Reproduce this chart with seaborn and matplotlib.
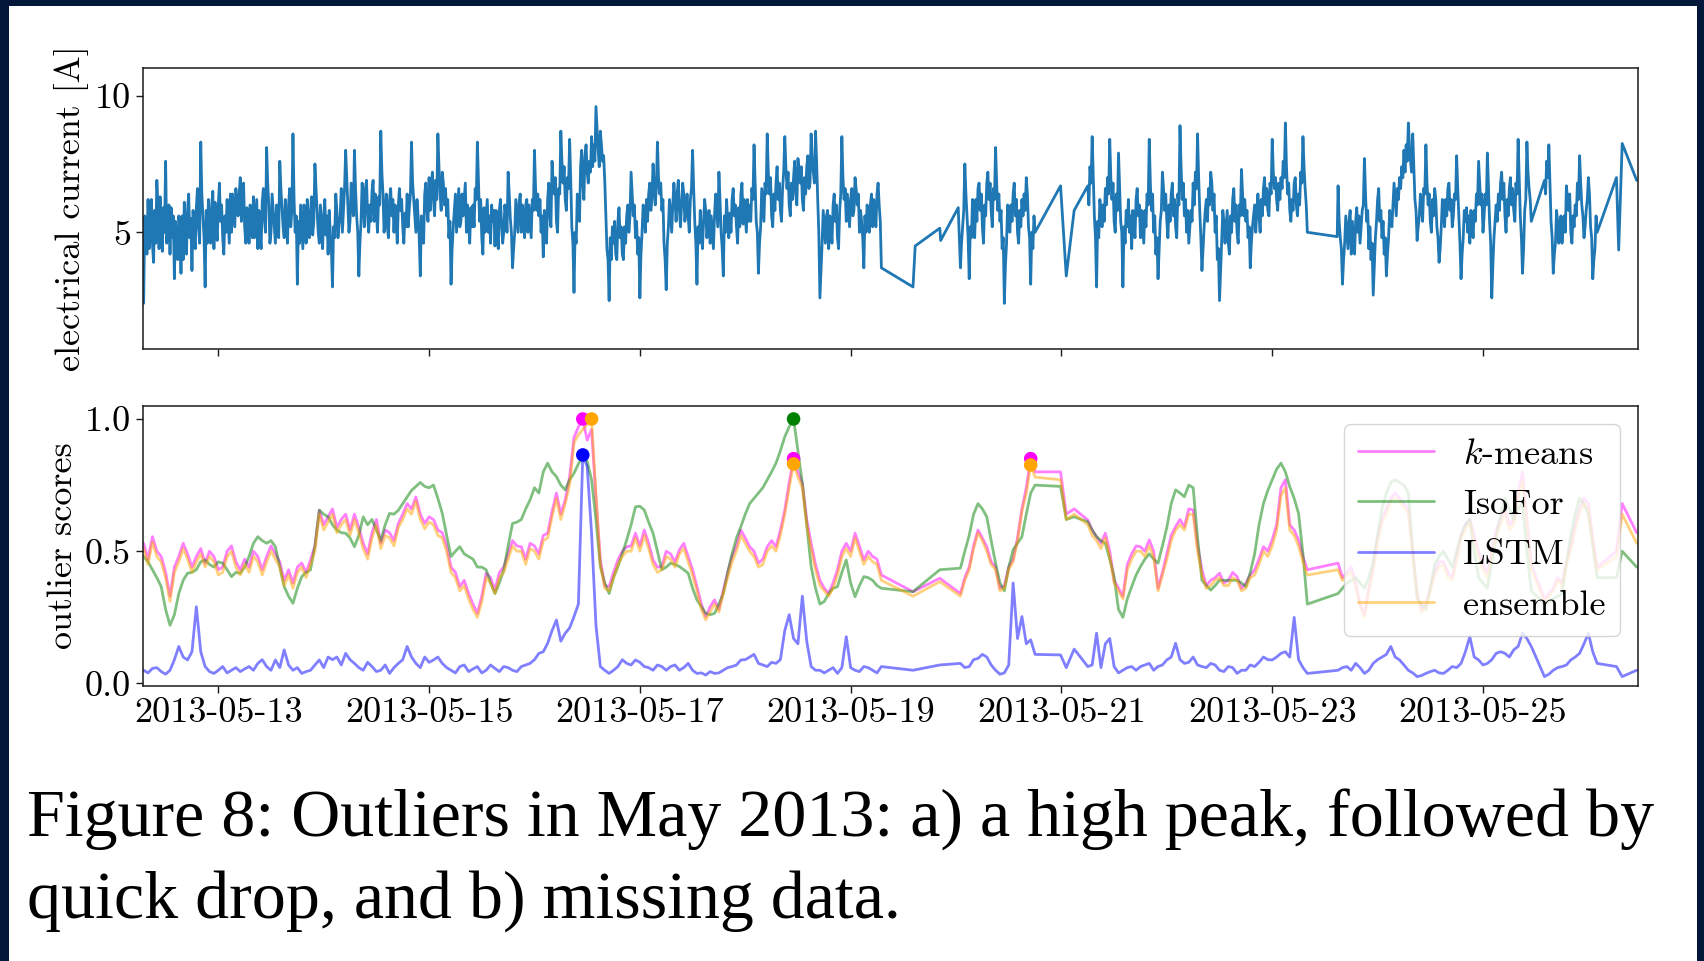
import numpy as np
import pandas as pd
import matplotlib
matplotlib.use("Agg")
import matplotlib.pyplot as plt
import seaborn as sns
from matplotlib.patches import Rectangle

# ---------------- data ----------------
BASE = "2013-05-12"   # hours below are counted from 2013-05-12 00:00

# electrical current [A]: regular runs (first hour, readings every 30 min,
# readings at the quarter hours in between)
current_run1 = (7, [
    2.4, 4.8, 6.2, 5.4, 4.6, 5.8, 6.9, 4.4, 5.0, 5.9,
    7.6, 5.2, 4.2, 4.8, 3.3, 4.6, 5.6, 3.5, 4.0, 5.0,
    5.8, 4.8, 3.6, 4.9, 5.9, 5.2, 8.3, 5.6, 3.0, 4.6,
    5.2, 6.0, 4.4, 5.3, 6.0, 5.4, 4.8, 5.6, 6.2, 4.6,
    5.0, 5.8, 6.6, 5.6, 7.0, 6.2, 5.2, 5.9, 4.6, 5.2,
    6.3, 5.5, 4.4, 5.0, 6.1, 5.5, 8.1, 6.0, 5.0, 5.8,
    4.6, 5.4, 7.6, 5.9, 4.8, 5.3, 6.0, 5.2, 8.6, 5.0,
    3.1, 4.6, 5.2, 6.0, 4.6, 5.4, 5.8, 4.9, 7.5, 5.8,
    4.6, 5.2, 5.6, 4.9, 4.2, 5.0, 3.0, 4.8, 5.8, 5.3,
    6.6, 5.8, 8.0, 6.1, 5.4, 6.2, 8.0, 5.6, 3.4, 5.4,
    6.2, 6.6, 5.6, 6.0, 6.5, 5.4, 5.8, 6.3, 8.7, 6.4,
    5.6, 5.2, 6.2, 5.6, 5.0, 5.5, 6.0, 5.8, 5.2, 5.7,
    6.4, 5.9, 8.3, 6.2, 5.0, 5.6, 3.4, 5.2, 6.4, 5.8,
    7.0, 6.6, 6.2, 6.9, 8.6, 6.4, 7.2, 6.0, 5.6, 4.8,
    3.1, 5.2, 6.4, 5.8, 5.2, 6.4, 6.2, 5.0, 5.4, 5.9,
    6.0, 6.6, 8.3, 5.4, 4.8, 5.9, 5.6, 5.0, 4.6, 5.4,
    4.5, 5.0, 5.8, 5.3, 5.0, 5.6, 7.2, 5.5, 3.7, 5.0,
    5.6, 6.1, 5.0, 5.6, 6.0, 5.0, 5.4, 6.2, 8.0, 5.8,
    5.6, 5.0, 4.1, 5.3, 6.2, 5.6, 7.6, 6.4, 5.4, 6.6,
    8.7, 6.8, 6.2, 7.0, 8.4, 5.2, 2.8, 4.6, 5.8, 7.4,
    6.8, 7.8, 7.2, 7.6, 8.5, 8.2, 9.6, 8.0, 8.7, 7.6,
    6.9, 4.4, 2.5, 4.0, 4.6, 4.2, 5.4, 4.8, 4.2, 5.2,
    5.6, 5.0, 7.2, 5.6, 4.8, 4.2, 2.6, 5.0, 5.6, 6.2,
    6.4, 5.8, 7.5, 6.0, 8.3, 6.4, 5.8, 4.6, 2.9, 5.2,
    5.6, 6.0, 6.2, 6.4, 5.8, 6.0, 6.4, 5.8, 5.6, 6.2,
    8.0, 5.4, 3.1, 4.6, 5.0, 5.4, 5.8, 5.2, 4.6, 5.0,
    5.6, 5.8, 7.2, 5.0, 3.4, 5.0, 5.4, 5.7, 6.2, 5.6,
    5.2, 5.9, 6.4, 5.3, 5.6, 6.2, 6.0, 6.6, 8.2, 5.4,
    3.5, 5.2, 6.0, 6.8, 8.6, 6.4, 5.6, 6.4, 6.8, 6.2,
    5.8, 6.6, 8.5, 6.6, 6.0, 6.8, 7.0, 6.4, 7.7, 6.8,
    6.2, 7.0, 7.4, 6.6, 8.6, 7.2, 8.7, 6.2, 2.6, 4.6,
    5.2, 5.6, 4.4, 5.2, 6.0, 5.4, 4.8, 5.8, 8.5, 6.2,
    5.4, 5.8, 6.2, 5.6, 7.0, 6.0, 5.0, 5.4, 3.7, 5.0,
    5.6, 6.0, 5.2, 5.8, 6.4, 6.0, 3.7], [
    5.6, 4.2, 4.4, 6.2, 3.9, 4.6, 6.0, 6.3, 4.3, 5.0,
    4.6, 6.0, 5.9, 5.6, 5.4, 4.0, 5.2, 5.6, 6.1, 4.2,
    6.4, 5.5, 5.8, 4.4, 6.6, 4.6, 6.4, 4.8, 5.8, 6.2,
    4.6, 6.5, 6.1, 4.7, 6.8, 6.0, 4.2, 5.0, 5.4, 6.4,
    6.4, 5.2, 6.0, 6.4, 5.4, 6.8, 4.6, 5.4, 6.0, 4.8,
    4.8, 6.2, 5.8, 4.4, 6.6, 5.0, 6.8, 4.6, 6.4, 5.2,
    6.0, 4.8, 6.6, 5.2, 6.2, 4.6, 6.6, 5.8, 6.2, 5.6,
    5.4, 6.0, 4.4, 5.6, 6.2, 4.8, 6.3, 5.4, 6.6, 5.0,
    6.0, 4.4, 6.2, 5.6, 5.8, 4.4, 5.2, 6.4, 4.8, 5.6,
    5.0, 6.6, 7.0, 5.0, 6.8, 5.6, 6.6, 5.0, 4.6, 6.8,
    5.2, 6.9, 5.0, 5.4, 6.9, 6.4, 5.0, 6.0, 7.2, 5.0,
    6.4, 4.8, 6.6, 6.2, 6.0, 4.6, 6.6, 6.2, 4.6, 5.2,
    5.2, 6.4, 6.8, 5.6, 6.2, 4.8, 5.6, 4.6, 6.8, 5.4,
    5.8, 7.2, 5.6, 6.2, 7.4, 5.8, 6.8, 6.6, 6.2, 5.4,
    4.4, 5.8, 5.0, 6.6, 5.4, 5.6, 6.8, 6.0, 4.6, 5.2,
    5.2, 6.2, 6.8, 6.2, 4.2, 5.0, 6.2, 5.6, 6.0, 5.8,
    5.8, 4.4, 6.2, 4.6, 6.0, 5.0, 6.4, 5.0, 4.4, 6.2,
    5.0, 6.4, 6.0, 4.8, 6.2, 6.0, 4.8, 5.8, 6.6, 6.4,
    6.2, 5.6, 5.8, 4.6, 6.8, 5.2, 6.8, 7.0, 5.0, 6.4,
    7.6, 7.4, 5.8, 6.6, 7.0, 4.6, 5.0, 6.4, 5.4, 8.0,
    6.2, 8.2, 6.8, 7.2, 7.4, 7.6, 8.8, 7.4, 8.2, 7.8,
    5.6, 4.0, 4.8, 5.2, 5.4, 4.0, 5.9, 5.2, 4.0, 4.6,
    6.0, 5.6, 6.4, 6.0, 5.4, 4.8, 4.2, 6.0, 5.0, 5.4,
    6.8, 6.2, 6.8, 6.6, 7.0, 6.8, 6.2, 4.0, 4.6, 6.2,
    5.0, 6.8, 5.4, 6.9, 5.2, 6.8, 5.4, 6.4, 5.0, 6.6,
    6.6, 4.6, 5.2, 5.8, 4.4, 6.2, 4.8, 5.8, 5.6, 4.4,
    6.4, 5.2, 6.2, 4.4, 5.6, 6.2, 4.8, 5.0, 6.6, 6.0,
    4.6, 5.2, 6.8, 6.2, 5.0, 5.4, 5.4, 6.2, 6.8, 5.0,
    4.6, 6.6, 5.4, 6.4, 7.2, 7.0, 5.2, 5.8, 7.4, 6.8,
    5.4, 7.2, 7.4, 7.2, 5.6, 6.2, 7.6, 6.0, 7.2, 7.4,
    5.8, 6.4, 7.8, 6.8, 7.6, 6.8, 7.6, 5.0, 3.6, 5.8,
    4.6, 5.8, 5.6, 4.6, 6.4, 6.0, 4.4, 6.4, 7.0, 6.6,
    6.4, 5.2, 6.6, 5.8, 6.6, 6.4, 5.8, 4.8, 5.6, 6.0,
    5.0, 6.4, 6.2, 5.2, 6.8, 5.4])
current_run2 = (193, [
    3.7, 5.2, 7.5, 5.6, 3.3, 4.8, 5.6, 6.2, 6.6, 5.8, 5.2, 6.0, 6.8, 6.2, 5.8, 6.6,
    8.1, 5.8, 5.4, 4.4, 2.4, 4.6, 5.6, 6.0, 6.4, 5.6, 5.0, 5.8, 6.2, 6.4, 7.0, 5.2,
    3.1, 4.4, 5.0], [
    4.6, 5.8, 6.4, 4.8, 5.2, 6.2, 4.8, 5.4, 6.8, 6.4,
    4.6, 5.6, 7.2, 6.8, 5.2, 6.2, 6.8, 6.4, 5.8, 4.8,
    3.8, 6.0, 5.0, 5.4, 6.8, 6.2, 4.6, 5.2, 5.6, 5.8,
    6.4, 4.8, 5.0, 5.6])
current_run3 = (222, [
    6.7, 7.4, 8.5, 5.6, 3.0, 4.8, 5.8, 6.0, 6.6, 7.0,
    8.4, 6.2, 5.4, 6.4, 7.9, 5.4, 3.0, 4.6, 5.2, 5.0,
    4.4, 5.4, 6.2, 5.6, 4.8, 5.2, 5.8, 6.4, 8.4, 5.8,
    5.0, 4.2, 3.3, 5.4, 7.2, 5.8, 5.4, 6.0, 6.4, 5.6,
    5.2, 6.4, 8.9, 6.2, 5.6, 5.0, 4.6, 5.8, 6.8, 7.2,
    8.6, 5.8, 3.6, 5.2, 6.2, 6.6, 7.2, 5.8, 5.0, 4.0,
    2.5, 4.6, 5.4, 5.2, 4.6, 5.6, 6.2, 5.4, 5.0, 6.0,
    7.3, 5.6, 5.4, 4.8, 3.7, 5.2, 6.0, 5.8, 5.6, 6.2,
    6.6, 6.0, 5.8, 6.8, 8.4, 6.6, 6.2, 6.8, 7.0, 7.6,
    9.0, 6.4, 5.8, 6.2, 6.8, 6.0, 6.4, 7.2, 8.5, 6.6,
    5.0], [
    6.0, 6.8, 7.0, 4.8, 5.4, 6.2, 5.2, 5.4, 6.0, 6.4,
    7.0, 6.8, 5.0, 5.8, 6.6, 5.0, 5.2, 5.8, 6.2, 5.6,
    5.8, 4.8, 6.6, 6.0, 5.8, 4.6, 5.2, 6.0, 6.8, 6.4,
    5.6, 4.8, 4.4, 5.8, 6.6, 6.4, 4.8, 5.4, 6.8, 6.2,
    4.8, 6.0, 7.4, 6.8, 6.2, 5.8, 5.2, 5.4, 6.0, 6.6,
    7.0, 4.8, 4.4, 5.8, 5.4, 6.0, 6.8, 6.4, 5.6, 4.4,
    3.6, 5.8, 4.6, 5.8, 4.2, 5.0, 6.6, 6.0, 4.6, 5.6,
    6.4, 6.2, 5.8, 5.2, 4.6, 5.6, 5.0, 6.4, 5.0, 5.6,
    7.0, 6.6, 5.6, 6.4, 7.2, 7.0, 5.8, 6.2, 6.6, 7.0,
    7.4, 6.8, 5.4, 5.8, 7.0, 5.6, 6.0, 6.8, 7.4, 6.0])
current_run4 = (279, [
    6.7, 4.8, 3.1, 4.6, 5.0, 5.4, 4.2, 4.8, 5.4, 5.0,
    4.6, 5.8, 7.7, 5.4, 4.4, 4.0, 2.7, 4.8, 6.2, 5.4,
    4.8, 4.2, 3.4, 4.8, 5.6, 6.0, 6.2, 6.6, 7.0, 7.4,
    8.0, 8.2, 9.0, 7.6, 8.6, 6.2, 4.7, 5.6, 6.0, 6.6,
    8.2, 6.0, 5.4, 6.2, 6.6, 5.2, 3.9, 5.2, 5.8, 6.2,
    6.6, 5.8, 5.2, 6.4, 7.8, 5.6, 3.3, 4.8, 5.4, 5.0,
    4.6, 5.4, 5.8, 6.4, 7.6, 6.0, 5.0, 6.4, 7.9, 5.4,
    2.6, 4.8, 6.0, 6.4, 6.8, 6.2, 5.6, 6.2, 6.6, 6.0,
    5.8, 6.8, 8.4, 5.6, 3.5, 5.8, 8.3, 6.6, 5.4], [
    5.4, 4.4, 4.0, 5.6, 4.4, 5.8, 5.4, 4.2, 5.9, 5.6,
    5.2, 6.0, 6.4, 5.8, 5.2, 4.6, 3.8, 5.4, 6.6, 5.8,
    5.4, 4.8, 4.2, 5.8, 5.2, 6.8, 5.6, 6.2, 6.6, 7.0,
    7.2, 7.6, 8.2, 7.2, 7.4, 5.8, 5.2, 6.4, 5.4, 6.4,
    6.8, 6.4, 5.0, 5.6, 6.2, 4.8, 4.4, 6.2, 5.2, 5.6,
    6.8, 6.2, 5.6, 6.2, 6.6, 4.6, 4.2, 5.8, 5.9, 5.6,
    5.8, 4.8, 5.4, 6.0, 6.8, 6.4, 5.6, 6.0, 6.6, 4.6,
    3.8, 5.4, 5.4, 5.8, 7.2, 6.8, 5.0, 5.6, 7.0, 6.6,
    5.4, 6.4, 7.0, 4.8, 4.4, 6.2, 7.2, 6.2])
current_run5 = (326, [
    6.9, 7.6, 8.2, 5.4, 3.5, 4.6, 5.4, 5.0, 4.6, 5.6, 6.7, 5.8, 5.0, 5.6, 6.0, 6.8,
    7.8, 6.0, 4.8, 5.8, 7.0, 5.2, 3.3, 4.4, 5.0], [
    6.4, 7.0, 6.8, 4.8, 4.2, 5.8, 4.6, 5.6, 5.2, 5.0,
    6.2, 6.4, 4.6, 5.2, 5.6, 6.2, 6.8, 5.6, 5.2, 6.2,
    6.4, 4.8, 4.0, 5.6])
# isolated readings around the missing-data stretches
current_sparse_hours = [182.2, 182.7, 188.3, 188.5, 192.5, 215.8, 217.1, 218.9,
                        278.8, 342.4, 342.9, 343.7, 347.0]
current_sparse_values = [3.0, 4.5, 5.15, 4.7, 5.9, 6.7, 3.4, 5.8,
                         4.84, 7.0, 4.35, 8.25, 6.9]

# outlier scores, part 1: two-hourly readings plus isolated ones in the gaps
score_hours = np.concatenate([
    np.arange(7, 176, 2), [182.2, 188.3], np.arange(193, 210, 2),
    [210, 215.8, 217.1, 218.9], np.arange(222, 273, 2), np.arange(279, 324, 2),
    np.arange(326, 339, 2), [342.4, 343.7, 347.0]])

kmeans_scores = [
    0.53, 0.555, 0.48, 0.33, 0.48, 0.49, 0.48, 0.455, 0.48, 0.44, 0.52, 0.43, 0.44, 0.48,
    0.48, 0.49, 0.39, 0.38, 0.455, 0.467, 0.655, 0.63, 0.59, 0.64, 0.64, 0.53, 0.57, 0.53,
    0.57, 0.605, 0.68, 0.705, 0.605, 0.62, 0.57, 0.44, 0.366, 0.34, 0.265, 0.417, 0.353,
    0.44, 0.54,
    0.517, 0.53, 0.49, 0.568, 0.72, 0.694, 0.93, 1.0, 0.96, 0.467, 0.366, 0.467, 0.517,
    0.568, 0.58, 0.467, 0.442, 0.49, 0.505, 0.48, 0.366, 0.253, 0.316, 0.353, 0.48, 0.58,
    0.517, 0.455, 0.517, 0.517, 0.655, 0.85, 0.757, 0.53, 0.39, 0.34, 0.43, 0.53, 0.568,
    0.467, 0.48, 0.41,
    0.347, 0.398,
    0.34, 0.44, 0.58, 0.517, 0.44, 0.37, 0.47, 0.66, 0.85,
    0.80, 0.80, 0.64, 0.66,
    0.618, 0.555, 0.568, 0.39, 0.33, 0.49, 0.517, 0.543, 0.36, 0.49, 0.593, 0.593, 0.656,
    0.43, 0.39, 0.417, 0.39, 0.404, 0.379, 0.43, 0.517, 0.543, 0.74, 0.60, 0.543, 0.43,
    0.455, 0.42, 0.38, 0.26, 0.44, 0.62, 0.70, 0.70, 0.66, 0.34, 0.30, 0.42, 0.46, 0.40,
    0.56, 0.62, 0.50, 0.42, 0.58, 0.66, 0.62, 0.80, 0.45,
    0.32, 0.36, 0.38, 0.52, 0.66, 0.68, 0.44,
    0.50, 0.68, 0.57]

isofor_scores = [
    0.48, 0.43, 0.366, 0.22, 0.34, 0.417, 0.43, 0.467, 0.44, 0.455, 0.404, 0.417, 0.48,
    0.555, 0.53, 0.517, 0.366, 0.303, 0.404, 0.43, 0.655, 0.63, 0.58, 0.568, 0.517, 0.63,
    0.62, 0.54, 0.643, 0.655, 0.705, 0.745, 0.745, 0.75, 0.643, 0.48, 0.517, 0.48, 0.44,
    0.43, 0.34, 0.43, 0.605,
    0.62, 0.694, 0.72, 0.833, 0.782, 0.732, 0.795, 0.858, 0.77, 0.442, 0.34, 0.442, 0.543,
    0.668, 0.656, 0.568, 0.43, 0.455, 0.442, 0.417, 0.316, 0.265, 0.265, 0.34, 0.49, 0.593,
    0.68, 0.72, 0.77, 0.833, 0.933, 1.0, 0.757, 0.442, 0.30, 0.34, 0.366, 0.467, 0.328,
    0.404, 0.39, 0.36,
    0.347, 0.43,
    0.436, 0.56, 0.68, 0.63, 0.455, 0.35, 0.505, 0.555, 0.72,
    0.75, 0.745, 0.62, 0.63,
    0.611, 0.555, 0.53, 0.404, 0.25, 0.366, 0.442, 0.49, 0.455, 0.59, 0.732, 0.706, 0.74,
    0.39, 0.353, 0.39, 0.39, 0.39, 0.366, 0.49, 0.68, 0.77, 0.833, 0.744, 0.643, 0.30,
    0.34, 0.38, 0.40, 0.36, 0.46, 0.66, 0.76, 0.76, 0.72, 0.32, 0.28, 0.45, 0.50, 0.44,
    0.56, 0.62, 0.40, 0.36, 0.55, 0.70, 0.62, 0.68, 0.35,
    0.30, 0.32, 0.34, 0.56, 0.70, 0.64, 0.40,
    0.40, 0.50, 0.44]

lstm_scores = [
    0.05, 0.057, 0.045, 0.05, 0.14, 0.089, 0.29, 0.064, 0.038, 0.064, 0.05, 0.045, 0.064,
    0.076, 0.064, 0.089, 0.127, 0.05, 0.038, 0.05, 0.089, 0.1, 0.1, 0.114, 0.076, 0.05,
    0.064, 0.05, 0.038, 0.076, 0.14, 0.076, 0.1, 0.089, 0.076, 0.05, 0.064, 0.045, 0.064,
    0.05, 0.057, 0.064, 0.05,
    0.064, 0.076, 0.114, 0.152, 0.24, 0.19, 0.253, 0.864, 0.568, 0.064, 0.038, 0.064,
    0.076, 0.089, 0.064, 0.05, 0.064, 0.064, 0.05, 0.076, 0.038, 0.032, 0.038, 0.05, 0.064,
    0.089, 0.1, 0.076, 0.064, 0.076, 0.2, 0.17, 0.33, 0.064, 0.05, 0.05, 0.038, 0.177,
    0.05, 0.064, 0.05, 0.064,
    0.05, 0.07,
    0.076, 0.064, 0.095, 0.1, 0.05, 0.04, 0.38, 0.253, 0.165,
    0.11, 0.108, 0.06, 0.13,
    0.064, 0.19, 0.15, 0.064, 0.05, 0.064, 0.064, 0.076, 0.064, 0.089, 0.152, 0.076, 0.1,
    0.064, 0.076, 0.05, 0.064, 0.038, 0.05, 0.064, 0.1, 0.089, 0.114, 0.10, 0.09, 0.038,
    0.05, 0.064, 0.076, 0.038, 0.076, 0.1, 0.14, 0.089, 0.05, 0.026, 0.038, 0.05, 0.038,
    0.064, 0.076, 0.177, 0.089, 0.076, 0.114, 0.114, 0.127, 0.19, 0.14,
    0.026, 0.05, 0.064, 0.089, 0.114, 0.19, 0.076,
    0.064, 0.026, 0.05]

ensemble_scores = [
    0.51, 0.535, 0.46, 0.31, 0.46, 0.47, 0.46, 0.44, 0.46, 0.42, 0.50, 0.41, 0.42, 0.46,
    0.46, 0.47, 0.37, 0.36, 0.44, 0.45, 0.64, 0.61, 0.57, 0.62, 0.62, 0.51, 0.55, 0.51,
    0.55, 0.59, 0.66, 0.69, 0.585, 0.60, 0.55, 0.42, 0.35, 0.32, 0.25, 0.40, 0.34, 0.42,
    0.52,
    0.50, 0.51, 0.47, 0.55, 0.70, 0.68, 0.91, 0.96, 1.0, 0.45, 0.35, 0.45, 0.50, 0.55,
    0.56, 0.45, 0.43, 0.47, 0.49, 0.46, 0.35, 0.24, 0.30, 0.34, 0.46, 0.56, 0.50, 0.44,
    0.50, 0.50, 0.64, 0.83, 0.74, 0.51, 0.37, 0.33, 0.41, 0.51, 0.55, 0.45, 0.46, 0.39,
    0.33, 0.385,
    0.33, 0.43, 0.57, 0.50, 0.43, 0.36, 0.46, 0.65, 0.826,
    0.78, 0.77, 0.62, 0.64,
    0.60, 0.54, 0.55, 0.38, 0.32, 0.47, 0.50, 0.52, 0.35, 0.47, 0.58, 0.58, 0.64, 0.41,
    0.37, 0.40, 0.37, 0.39, 0.36, 0.41, 0.50, 0.52, 0.71, 0.58, 0.52, 0.41,
    0.43, 0.41, 0.37, 0.25, 0.43, 0.61, 0.69, 0.69, 0.65, 0.33, 0.29, 0.41, 0.45, 0.39,
    0.55, 0.61, 0.48, 0.40, 0.56, 0.65, 0.60, 0.77, 0.43,
    0.31, 0.35, 0.37, 0.51, 0.65, 0.66, 0.43,
    0.48, 0.64, 0.53]

# outlier scores, part 2: readings at the odd hours in between
score_mid_hours = np.concatenate([
    np.arange(8, 175, 2), np.arange(194, 209, 2), np.arange(223, 272, 2),
    np.arange(280, 323, 2), np.arange(327, 338, 2)])

kmeans_mid = [
    0.47, 0.50, 0.42, 0.44, 0.53, 0.44, 0.51, 0.50, 0.43, 0.50,
    0.46, 0.47, 0.50, 0.43, 0.52, 0.46, 0.43, 0.44, 0.42, 0.52,
    0.60, 0.66, 0.62, 0.58, 0.59, 0.49, 0.62, 0.58, 0.54, 0.64,
    0.66, 0.64, 0.63, 0.58, 0.52, 0.42, 0.39, 0.30, 0.33, 0.40,
    0.42, 0.49, 0.52, 0.47, 0.52, 0.56, 0.65, 0.64, 0.78, 0.97,
    0.92, 0.70, 0.37, 0.42, 0.50, 0.52, 0.52, 0.53, 0.44, 0.50,
    0.46, 0.53, 0.43, 0.30, 0.29, 0.28, 0.42, 0.52, 0.55, 0.50,
    0.47, 0.54, 0.58, 0.76, 0.80, 0.62, 0.45, 0.36, 0.38, 0.50,
    0.50, 0.52, 0.50, 0.47,
    0.40, 0.52, 0.55, 0.46, 0.36, 0.44, 0.55, 0.74,
    0.58, 0.53, 0.50, 0.36, 0.45, 0.52, 0.50, 0.50, 0.42, 0.56, 0.62, 0.66, 0.52,
    0.37, 0.40, 0.38, 0.42, 0.36, 0.41, 0.47, 0.50, 0.60, 0.77, 0.58, 0.48,
    0.40, 0.44, 0.30, 0.36, 0.55, 0.66, 0.72, 0.68, 0.50, 0.28, 0.36, 0.46, 0.42,
    0.48, 0.60, 0.56, 0.45, 0.50, 0.62, 0.60, 0.72, 0.62,
    0.34, 0.40, 0.46, 0.60, 0.70, 0.55]

isofor_mid = [
    0.46, 0.40, 0.28, 0.26, 0.39, 0.42, 0.46, 0.45, 0.46, 0.43,
    0.42, 0.44, 0.53, 0.54, 0.54, 0.44, 0.33, 0.36, 0.42, 0.52,
    0.64, 0.60, 0.57, 0.55, 0.56, 0.60, 0.58, 0.60, 0.64, 0.68,
    0.73, 0.76, 0.74, 0.70, 0.56, 0.50, 0.49, 0.47, 0.44, 0.38,
    0.38, 0.52, 0.61, 0.66, 0.74, 0.80, 0.80, 0.75, 0.77, 0.83,
    0.84, 0.62, 0.38, 0.40, 0.49, 0.60, 0.67, 0.61, 0.50, 0.44,
    0.45, 0.43, 0.36, 0.29, 0.26, 0.30, 0.42, 0.55, 0.64, 0.70,
    0.74, 0.80, 0.88, 0.97, 0.88, 0.60, 0.36, 0.31, 0.36, 0.42,
    0.38, 0.37, 0.40, 0.37,
    0.50, 0.64, 0.66, 0.54, 0.38, 0.44, 0.53, 0.64,
    0.58, 0.54, 0.47, 0.28, 0.32, 0.41, 0.47, 0.47, 0.52, 0.68, 0.72, 0.75, 0.55,
    0.37, 0.37, 0.39, 0.39, 0.38, 0.42, 0.60, 0.73, 0.81, 0.80, 0.70, 0.49,
    0.36, 0.39, 0.38, 0.40, 0.56, 0.72, 0.77, 0.75, 0.50, 0.30, 0.36, 0.48, 0.47,
    0.50, 0.60, 0.50, 0.38, 0.46, 0.64, 0.66, 0.66, 0.50,
    0.31, 0.33, 0.45, 0.64, 0.68, 0.52]

lstm_mid = [
    0.04, 0.06, 0.035, 0.09, 0.10, 0.12, 0.12, 0.045, 0.05, 0.04,
    0.06, 0.055, 0.05, 0.09, 0.05, 0.06, 0.07, 0.06, 0.045, 0.07,
    0.06, 0.09, 0.07, 0.09, 0.06, 0.08, 0.045, 0.07, 0.06, 0.09,
    0.10, 0.06, 0.08, 0.10, 0.06, 0.04, 0.07, 0.055, 0.04, 0.07,
    0.045, 0.06, 0.045, 0.07, 0.09, 0.12, 0.20, 0.16, 0.21, 0.30,
    0.82, 0.22, 0.05, 0.05, 0.09, 0.07, 0.08, 0.06, 0.07, 0.05,
    0.07, 0.06, 0.05, 0.04, 0.045, 0.04, 0.06, 0.07, 0.09, 0.11,
    0.07, 0.08, 0.09, 0.26, 0.15, 0.16, 0.05, 0.04, 0.06, 0.06,
    0.06, 0.045, 0.06, 0.04,
    0.06, 0.09, 0.11, 0.07, 0.035, 0.07, 0.17, 0.15,
    0.07, 0.06, 0.17, 0.04, 0.06, 0.05, 0.07, 0.05, 0.07, 0.10, 0.09, 0.08, 0.07,
    0.06, 0.07, 0.045, 0.06, 0.05, 0.07, 0.08, 0.09, 0.10, 0.12, 0.25, 0.06,
    0.06, 0.05, 0.06, 0.05, 0.09, 0.11, 0.10, 0.07, 0.04, 0.03, 0.045, 0.04, 0.05,
    0.06, 0.12, 0.10, 0.07, 0.09, 0.12, 0.10, 0.14, 0.17,
    0.035, 0.06, 0.07, 0.10, 0.15, 0.12]

ensemble_mid = [
    0.45, 0.48, 0.40, 0.42, 0.51, 0.42, 0.49, 0.48, 0.41, 0.48,
    0.44, 0.45, 0.48, 0.41, 0.50, 0.44, 0.41, 0.42, 0.40, 0.50,
    0.58, 0.64, 0.60, 0.56, 0.57, 0.47, 0.60, 0.56, 0.52, 0.62,
    0.64, 0.62, 0.61, 0.56, 0.50, 0.40, 0.37, 0.28, 0.31, 0.38,
    0.40, 0.47, 0.50, 0.45, 0.50, 0.54, 0.63, 0.62, 0.75, 0.94,
    0.98, 0.72, 0.36, 0.40, 0.48, 0.50, 0.50, 0.51, 0.42, 0.48,
    0.44, 0.51, 0.41, 0.28, 0.27, 0.27, 0.40, 0.50, 0.53, 0.48,
    0.45, 0.52, 0.56, 0.74, 0.78, 0.60, 0.43, 0.35, 0.36, 0.48,
    0.48, 0.50, 0.48, 0.45,
    0.39, 0.51, 0.54, 0.45, 0.35, 0.43, 0.54, 0.72,
    0.56, 0.51, 0.48, 0.35, 0.43, 0.50, 0.48, 0.48, 0.41, 0.54, 0.60, 0.64, 0.50,
    0.36, 0.39, 0.37, 0.40, 0.35, 0.40, 0.45, 0.48, 0.58, 0.74, 0.56, 0.46,
    0.39, 0.42, 0.29, 0.35, 0.53, 0.64, 0.70, 0.66, 0.48, 0.27, 0.35, 0.44, 0.40,
    0.46, 0.58, 0.54, 0.43, 0.48, 0.60, 0.58, 0.70, 0.60,
    0.33, 0.39, 0.45, 0.58, 0.68, 0.53]

methods = ["$k$-means", "IsoFor", "LSTM", "ensemble"]
method_colors = ["magenta", "green", "blue", "orange"]
# hours of the points each method flags as outliers
outlier_hours = {"$k$-means": [107, 155, 209], "IsoFor": [155], "LSTM": [107],
                 "ensemble": [109, 155, 209]}

tick_dates = ["2013-05-13", "2013-05-15", "2013-05-17", "2013-05-19",
              "2013-05-21", "2013-05-23", "2013-05-25"]
caption_lines = ["Figure 8: Outliers in May 2013: a) a high peak, followed by",
                 "quick drop, and b) missing data."]

# ---------------- style ----------------
sns.set_style("ticks")
plt.rcParams.update({
    "font.family": ["cmr10", "DejaVu Serif"],
    "mathtext.fontset": "cm",
    "axes.formatter.use_mathtext": True,
    "axes.unicode_minus": False,
    "font.size": 26,
    "text.color": "black",
    "axes.labelcolor": "black",
    "axes.edgecolor": "0.1",
    "axes.linewidth": 1.1,
    "xtick.major.size": 5,
    "ytick.major.size": 5,
    "xtick.major.width": 1.0,
    "ytick.major.width": 1.0,
    "xtick.color": "0.1",
    "ytick.color": "0.1",
    "xtick.labelcolor": "black",
    "ytick.labelcolor": "black",
    "xtick.labelsize": 26,
    "ytick.labelsize": 26,
})

base = pd.Timestamp(BASE)
to_time = lambda h: base + pd.to_timedelta(np.asarray(h, dtype=float), unit="h")

hours, vals = list(current_sparse_hours), list(current_sparse_values)
for start, run, mids in (current_run1, current_run2, current_run3,
                         current_run4, current_run5):
    hours += list(start + 0.5 * np.arange(len(run)))
    vals += list(run)
    hours += list(start + 0.25 + 0.5 * np.arange(len(mids)))
    vals += list(mids)
cur_df = pd.DataFrame({"hour": hours, "current": vals}).sort_values("hour")
cur_df["time"] = to_time(cur_df["hour"].values)

score_df = pd.concat([
    pd.DataFrame({"hour": score_hours, "$k$-means": kmeans_scores,
                  "IsoFor": isofor_scores, "LSTM": lstm_scores,
                  "ensemble": ensemble_scores}),
    pd.DataFrame({"hour": score_mid_hours, "$k$-means": kmeans_mid,
                  "IsoFor": isofor_mid, "LSTM": lstm_mid,
                  "ensemble": ensemble_mid})]).sort_values("hour")
score_df["time"] = to_time(score_df["hour"].values)

W, H = 1704, 961
fig = plt.figure(figsize=(W / 100, H / 100), dpi=100, facecolor="#02173a")
fig.add_artist(Rectangle((9 / W, 0), (1697 - 9) / W, (H - 6) / H,
                         transform=fig.transFigure, facecolor="white",
                         edgecolor="none", zorder=0))

L, R = 143 / W, 1638 / W
ax1 = fig.add_axes([L, 1 - 349 / H, R - L, 281 / H])
ax2 = fig.add_axes([L, 1 - 686 / H, R - L, 280 / H], sharex=ax1)

sns.lineplot(data=cur_df, x="time", y="current", ax=ax1, color="#1f77b4",
             linewidth=2.0, sort=False)
ax1.set_ylim(0.73, 11.01)
ax1.set_yticks([5, 10])
ax1.set_yticklabels(["5", "10"])
ax1.set_ylabel("electrical current [A]")
ax1.set_xlabel("")
ax1.tick_params(axis="x", labelbottom=False)

for name, col in zip(methods, method_colors):
    sns.lineplot(data=score_df, x="time", y=name, ax=ax2, color=col, alpha=0.5,
                 linewidth=2.0, label=name, sort=False)
for name, col in zip(methods, method_colors):
    sel = score_df[np.isin(score_df["hour"], outlier_hours[name])]
    sns.scatterplot(x=sel["time"], y=sel[name], ax=ax2, color=col, s=95,
                    edgecolor="none", legend=False, zorder=5)

ax2.set_ylim(-0.0095, 1.049)
ax2.set_yticks([0.0, 0.5, 1.0])
ax2.set_yticklabels(["0.0", "0.5", "1.0"])
ax2.set_ylabel("outlier scores")
ax2.set_xlabel("")
ticks = pd.to_datetime(tick_dates)
ax2.set_xticks(ticks)
ax2.set_xticklabels(tick_dates)
ax2.set_xlim(to_time([6.85])[0], to_time([347.3])[0])
ax2.legend(loc="upper right", fontsize=26, framealpha=0.8, handlelength=2.1)

for ax in (ax1, ax2):
    for s in ax.spines.values():
        s.set_visible(True)

fig.text(27 / W, 1 - 837 / H, caption_lines[0], fontsize=49, color="black",
         family="Liberation Serif", va="baseline", ha="left")
fig.text(27 / W, 1 - 918 / H, caption_lines[1], fontsize=49, color="black",
         family="Liberation Serif", va="baseline", ha="left")

fig.savefig("out.png", dpi=100, facecolor=fig.get_facecolor())
